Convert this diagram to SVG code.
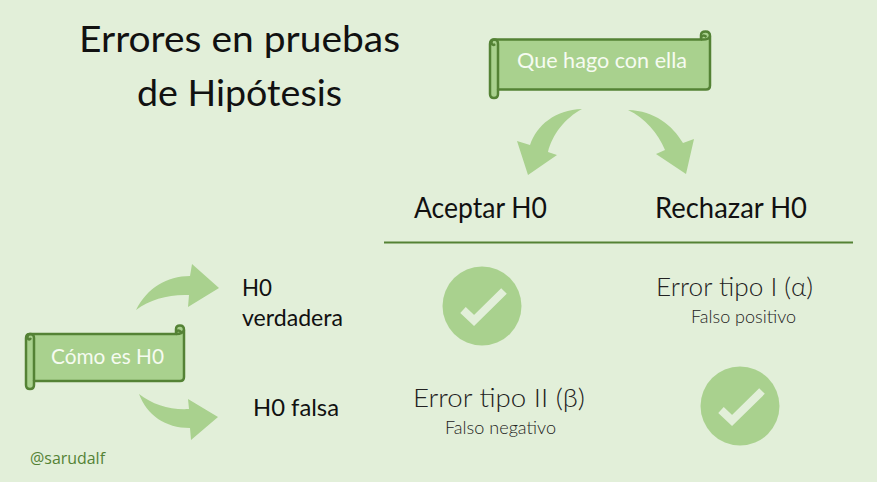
<svg xmlns="http://www.w3.org/2000/svg" width="877" height="482" viewBox="0 0 877 482">
<defs>
<style>
text{font-family:"Lato","Noto Sans",sans-serif;fill:#111;}
.title{font-size:37px;}
.head{font-size:28px;}
.row{font-size:23px;}
.err{font-size:25px;fill:#222;font-weight:300;}
.sub{font-size:18px;fill:#222;font-weight:300;}
.ban{font-size:22px;fill:#f6fbf1;}
.arrow{fill:#a9d18e;}
.roll{fill:#a9d18e;stroke:#548235;stroke-width:2.500;stroke-linejoin:round;}
.fold{fill:none;stroke:#548235;stroke-width:2.500;}
.check{fill:none;stroke:#e2efd9;stroke-width:8;}
</style>
</defs>
<rect width="877" height="482" fill="#e2efd9"/>
<g id="title">
<text class="title" x="79" y="52" textLength="321" lengthAdjust="spacingAndGlyphs">Errores en pruebas</text>
<text class="title" x="137" y="106" textLength="205" lengthAdjust="spacingAndGlyphs">de Hipótesis</text>
</g>
<g id="banner-accion">
<path class="roll" d="M494 39.500H701V35Q701 31.500 705.500 31.500Q710 31.500 710 36V85.500Q710 89.500 706 89.500H498V94Q498 98 494 98Q490 98 490 94V44Q490 39.500 494 39.500Z"/>
<path class="fold" d="M498 89.500V44Q498 39.500 494 39.500Q491 40 491.500 43.500Q493 46 495 44M701 39.500Q709 40 710 36M701 37.500Q703 34 706.500 37"/>
<text class="ban" x="517" y="68" textLength="170" lengthAdjust="spacingAndGlyphs">Que hago con ella</text>
</g>
<g id="col-aceptar"><text class="head" x="414" y="218" textLength="133" lengthAdjust="spacingAndGlyphs">Aceptar H0</text></g>
<g id="col-rechazar"><text class="head" x="655" y="218" textLength="152" lengthAdjust="spacingAndGlyphs">Rechazar H0</text></g>
<g id="banner-como">
<path class="roll" d="M30 334H176V329Q176 325.500 180 325.500Q184 325.500 184 330V377Q184 381 180 381H34V385Q34 389 30 389Q26 389 26 385V338Q26 334 30 334Z"/>
<path class="fold" d="M34 381V338Q34 334 30 334Q27 334.500 27.500 338Q29 341 31 338M176 334Q183 334 184 330M176 332Q178 329 181 332"/>
<text class="ban" x="51" y="364" textLength="113" lengthAdjust="spacingAndGlyphs">Cómo es H0</text>
</g>
<g id="row-verdadera">
<text class="row" x="242" y="296" textLength="30" lengthAdjust="spacingAndGlyphs">H0</text>
<text class="row" x="242" y="326" textLength="101" lengthAdjust="spacingAndGlyphs">verdadera</text>
</g>
<g id="row-falsa"><text class="row" x="253" y="416" textLength="86" lengthAdjust="spacingAndGlyphs">H0 falsa</text></g>
<g id="check-verdadera-aceptar">
<circle cx="482" cy="306" r="39.500" fill="#a9d18e"/>
<path class="check" d="M463 310L474 320.500L504 291"/>
</g>
<g id="error-tipo-1">
<text class="err" x="656" y="296" textLength="157" lengthAdjust="spacingAndGlyphs">Error tipo I (α)</text>
<text class="sub" x="691" y="323" textLength="105" lengthAdjust="spacingAndGlyphs">Falso positivo</text>
</g>
<g id="error-tipo-2">
<text class="err" x="413" y="407" textLength="172" lengthAdjust="spacingAndGlyphs">Error tipo II (β)</text>
<text class="sub" x="445" y="434" textLength="111" lengthAdjust="spacingAndGlyphs">Falso negativo</text>
</g>
<g id="check-falsa-rechazar">
<circle cx="740" cy="406" r="39.500" fill="#a9d18e"/>
<path class="check" d="M721 410L732 420.500L762 391"/>
</g>
<g id="credit"><text x="30" y="464" style="font-size:16px;fill:#548235;font-family:'Open Sans','Noto Sans',sans-serif" textLength="75" lengthAdjust="spacingAndGlyphs">@sarudalf</text></g>
<g id="connectors">
<line x1="384" y1="242.500" x2="853" y2="242.500" stroke="#548235" stroke-width="2"/>
<path class="arrow" d="M582 109C555 110 537 125 530 145L517 141L528 175L557 155L548 152C552 135 565 118 582 109Z"/>
<path class="arrow" d="M628 110C655 111 672 125 683 143L694 139L686 174L656 154L665 150C658 133 645 118 628 110Z"/>
<path class="arrow" d="M136 310C147 288 167 276 190 276L192 264L219 288L188 307L189 295C170 294 150 299 136 310Z"/>
<path class="arrow" d="M139 394C153 405 170 410 189 409L188 399L218 417L191 440L190 428C165 428 147 415 139 394Z"/>
</g>
</svg>
